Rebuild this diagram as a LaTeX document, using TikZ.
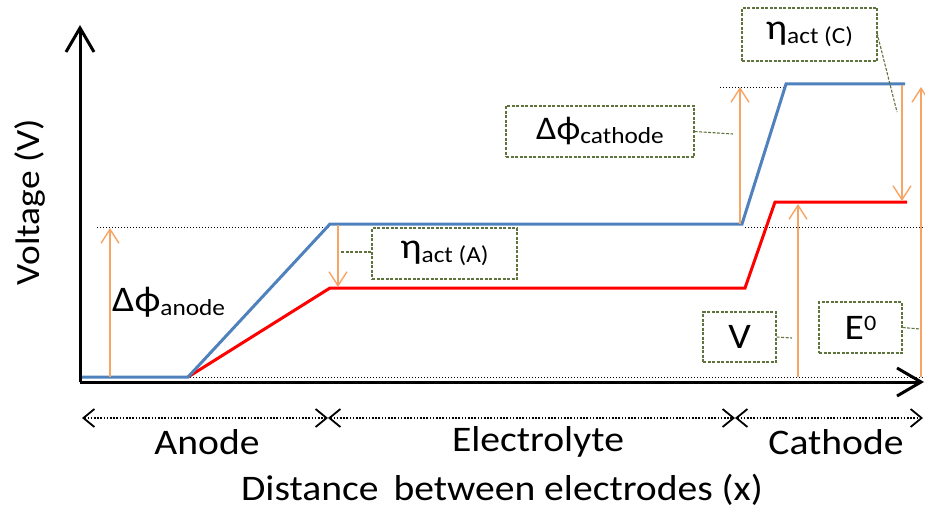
\documentclass[tikz,border=0pt]{standalone}
\usepackage{fontspec}
\setmainfont{Carlito}[FakeStretch=1.1]
\usetikzlibrary{arrows.meta}
\definecolor{cblue}{RGB}{79,129,189}
\definecolor{cred}{RGB}{255,0,0}
\definecolor{corange}{RGB}{247,165,100}
\definecolor{cgreen}{RGB}{95,115,60}
\newcommand\bigtxt{\fontsize{36}{40}\selectfont}
\newcommand\subtxt[1]{\raisebox{-4pt}{\fontsize{23}{26}\selectfont #1}}
\newcommand\suptxt[1]{\raisebox{9pt}{\fontsize{22}{26}\selectfont #1}}
\tikzset{
  axisline/.style={line width=3pt, -{Straight Barb[length=24pt,width=28pt]}},
  bluecurve/.style={cblue, line width=3pt, line join=miter},
  redcurve/.style={cred, line width=3pt, line join=miter},
  orangearrow/.style={corange, line width=1.4pt, -{Straight Barb[length=14pt,width=18pt]}},
  guide/.style={black, line width=0.8pt, dash pattern=on 1pt off 2pt},
  spanarrow/.style={black, line width=1.8pt, dash pattern=on 1.6pt off 1.6pt,
     {Straight Barb[length=11pt,width=18pt,line width=1.8pt]}-{Straight Barb[length=11pt,width=18pt,line width=1.8pt]}},
  labelbox/.style={draw=cgreen, line width=1.1pt, dash pattern=on 3pt off 1.5pt, inner sep=0pt, font=\bigtxt},
  callout/.style={cgreen, line width=1.1pt, dash pattern=on 3pt off 1.5pt},
  plaintext/.style={inner sep=0pt, font=\bigtxt}
}
\begin{document}
\begin{tikzpicture}[x=1pt,y=-1pt]
\useasboundingbox (0,0) rectangle (925,513);

% guide dotted lines
\coordinate (g1a) at (97,227);  \coordinate (g1b) at (330,227);
\coordinate (g2a) at (745,227); \coordinate (g2b) at (925,227);
\coordinate (g3a) at (720,87);  \coordinate (g3b) at (785,87);
\coordinate (g4a) at (190,377); \coordinate (g4b) at (925,377);
\draw[guide] (g1a) -- (g1b);
\draw[guide] (g2a) -- (g2b);
\draw[guide] (g3a) -- (g3b);
\draw[guide] (g4a) -- (g4b);

% axes
\coordinate (origin) at (80,382);
\coordinate (ytip) at (80,25);
\coordinate (xtip) at (924,382);
\draw[axisline] (origin) -- (ytip);
\draw[axisline] (origin) -- (xtip);

% curves
\coordinate (b0) at (82,377);
\coordinate (b1) at (188,377);
\coordinate (b2) at (330,224);
\coordinate (b3) at (742,224);
\coordinate (b4) at (786,84);
\coordinate (b5) at (905,84);
\coordinate (r1) at (330,288);
\coordinate (r2) at (745,288);
\coordinate (r3) at (775,202);
\coordinate (r4) at (907,202);
\draw[redcurve] (b1) -- (r1) -- (r2) -- (r3) -- (r4);
\draw[bluecurve] (b0) -- (b1) -- (b2) -- (b3) -- (b4) -- (b5);

% orange arrows
\coordinate (oa1) at (110,377); \coordinate (oa2) at (110,228);
\coordinate (ob1) at (338,225); \coordinate (ob2) at (338,287);
\coordinate (oc1) at (740,224); \coordinate (oc2) at (740,87);
\coordinate (od1) at (902,85);  \coordinate (od2) at (902,201);
\coordinate (oe1) at (798,377); \coordinate (oe2) at (798,204);
\coordinate (of1) at (921,377); \coordinate (of2) at (921,87);
\draw[orangearrow] (oa1) -- (oa2);
\draw[orangearrow] (ob1) -- (ob2);
\draw[orangearrow] (oc1) -- (oc2);
\draw[orangearrow] (od1) -- (od2);
\draw[orangearrow] (oe1) -- (oe2);
\draw[orangearrow] (of1) -- (of2);

% label boxes
\node[labelbox, minimum width=145pt, minimum height=51pt] (etaA) at (444.5,253.5) {η\subtxt{act (A)}};
\node[labelbox, minimum width=188pt, minimum height=51pt, font=\fontsize{33}{38}\selectfont] (dcat) at (600,131.5) {Δϕ\subtxt{cathode}};
\node[labelbox, minimum width=135pt, minimum height=53pt] (etaC) at (809.5,34.5) {η\subtxt{act (C)}};
\node[labelbox, minimum width=73pt, minimum height=50pt] (vbox) at (739.5,337) {V};
\node[labelbox, minimum width=83pt, minimum height=51pt] (ebox) at (860.5,327.5) {E\suptxt{0}};

% callout connectors
\coordinate (cA) at (341,252);
\coordinate (cB) at (733,134);
\coordinate (cCs) at (877,33);
\coordinate (cC) at (897,112);
\coordinate (cD) at (792,338);
\coordinate (cE) at (920,329);
\draw[callout] (etaA.west |- cA) -- (cA);
\draw[callout] (dcat.east) -- (cB);
\draw[callout] (cCs) -- (cC);
\draw[callout] (vbox.east) -- (cD);
\draw[callout] (ebox.east) -- (cE);

% plain texts
\node[plaintext, rotate=90, font=\fontsize{34}{40}\selectfont] (ylab) at (30,202) {Voltage (V)};
\node[plaintext, anchor=west] (danode) at (112,302) {Δϕ\subtxt{anode}};

% region spans
\coordinate (s0) at (82,418);
\coordinate (s1) at (328,418);
\coordinate (s2) at (735,418);
\coordinate (s3) at (923,418);
\draw[spanarrow] (s0) -- (s1);
\draw[spanarrow] (s1) -- (s2);
\draw[spanarrow] (s2) -- (s3);
\node[plaintext] (anode) at (207,442) {Anode};
\node[plaintext] (elec) at (538,442) {Electrolyte};
\node[plaintext] (cath) at (836,442) {Cathode};
\node[plaintext] (xlab) at (502,490) {Distance\, between electrodes (x)};
\end{tikzpicture}
\end{document}
